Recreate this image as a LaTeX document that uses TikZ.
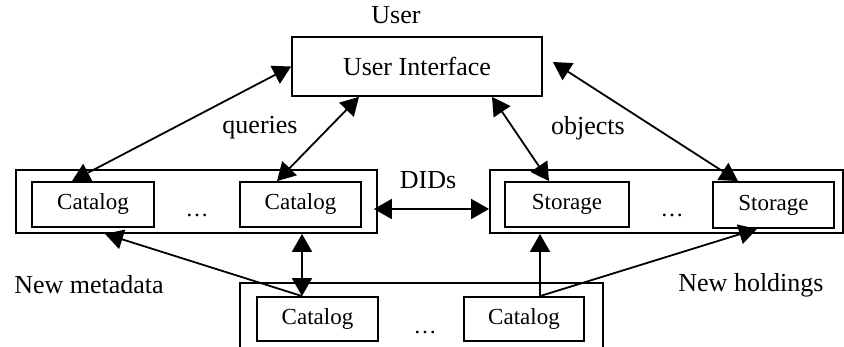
\documentclass[tikz,border=0pt]{standalone}
\usepackage{fontspec}
\setmainfont{Liberation Serif}
\usetikzlibrary{arrows.meta,calc}
\begin{document}
\begin{tikzpicture}[x=1pt,y=-1pt,
  box/.style={draw,line width=1.8pt,inner sep=0pt,font=\fontsize{23}{27}\selectfont},
  grp/.style={draw,line width=1.8pt,inner sep=0pt},
  lbl/.style={font=\fontsize{26}{30}\selectfont,inner sep=0pt},
  dots/.style={font=\fontsize{23}{27}\selectfont,inner sep=0pt,anchor=base},
  conn/.style={line width=1.8pt},
  tip/.tip={Triangle[length=18pt,width=20pt]},
  dbl/.style={conn,tip-tip},
  sgl/.style={conn,-tip}]
\useasboundingbox (0,0) rectangle (844,347);
% user interface
\node[box,font=\fontsize{26}{30}\selectfont,minimum width=250pt,minimum height=59pt] (ui) at (417,66.5) {User Interface};
\node[lbl] (user) at (396,15) {User};
% groups
\node[grp,minimum width=361pt,minimum height=63pt] (lo) at (196.5,201.5) {};
\node[grp,minimum width=353pt,minimum height=63pt] (ro) at (666.5,201.5) {};
\node[grp,minimum width=363pt,minimum height=69pt] (bo) at (421.5,317.5) {};
% catalogs and storage
\node[box,minimum width=122pt,minimum height=45pt] (cat1) at (93,204.5) {Catalog};
\node[box,minimum width=121pt,minimum height=45pt] (cat2) at (300.5,204.5) {Catalog};
\node[dots] (d1) at (197,217) {\ldots};
\node[box,minimum width=124pt,minimum height=45pt] (st1) at (567,204.5) {Storage};
\node[box,minimum width=121pt,minimum height=46pt] (st2) at (773.5,205) {Storage};
\node[dots] (d2) at (672,217) {\ldots};
\node[box,minimum width=121pt,minimum height=44pt] (cat3) at (317.5,319) {Catalog};
\node[box,minimum width=120pt,minimum height=44pt] (cat4) at (524,319) {Catalog};
\node[dots] (d3) at (425,334) {\ldots};
% labels
\node[lbl] (q) at (260,128) {queries};
\node[lbl] (o) at (588,128) {objects};
\node[lbl] (dids) at (428,180) {DIDs};
\node[lbl] (nm) at (89,285) {New metadata};
\node[lbl] (nh) at (751,285) {New holdings};
% connectors
\draw[dbl] (ui.west) -- ([xshift=-21pt]cat1.north);
\draw[dbl] ([xshift=-58pt]ui.south) -- ([xshift=-23.5pt]cat2.north);
\draw[dbl] ([xshift=75pt]ui.south) -- ([xshift=-18pt]st1.north);
\draw[dbl] ([xshift=10pt,yshift=4.5pt]ui.east) -- ([xshift=-35.5pt]st2.north);
\draw[dbl] ([xshift=-4pt,yshift=-7.5pt]lo.east) -- ([yshift=-7.5pt]ro.west);
\coordinate (c3) at ([xshift=-15.5pt]cat3.north);
\coordinate (c4) at ([xshift=16pt]cat4.north);
\draw[sgl] (c3) -- ([xshift=-91.5pt]lo.south);
\draw[dbl] (c3) -- (c3 |- lo.south);
\draw[sgl] (c4) -- (c4 |- ro.south);
\draw[sgl] (c4) -- ([xshift=-16.5pt]st2.south);
\end{tikzpicture}
\end{document}
